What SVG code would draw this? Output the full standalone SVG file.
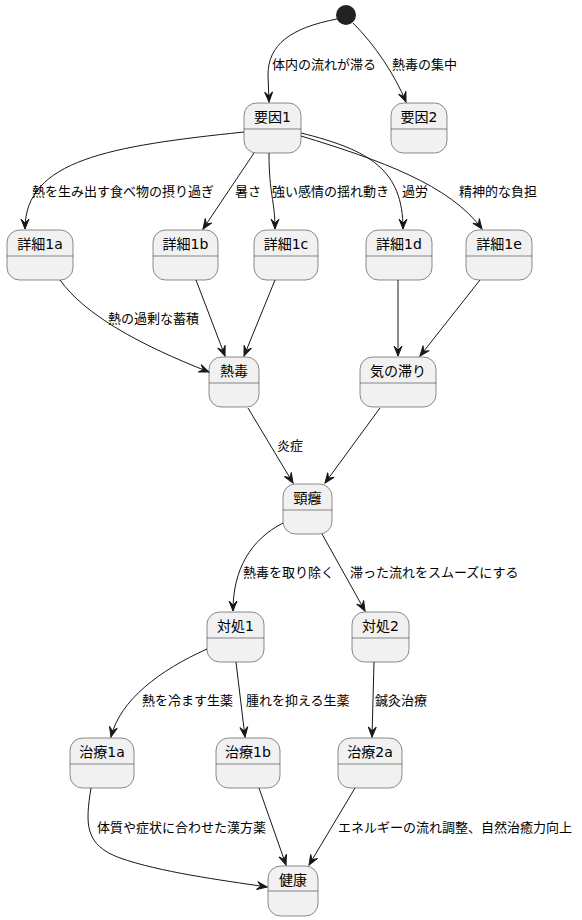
<svg xmlns="http://www.w3.org/2000/svg" width="582" height="920" viewBox="0 0 582 920">
<style>
.n rect{fill:#F1F1F1;stroke:#181818;stroke-width:0.5}
.n line{stroke:#181818;stroke-width:0.5}
.n text{font-family:"DejaVu Sans","Noto Sans CJK JP",sans-serif;font-size:14px;font-weight:normal;fill:#000;text-anchor:middle}
#edges path{fill:none;stroke:#181818;stroke-width:1;marker-end:url(#ah)}
.lb{font-family:"DejaVu Sans","Noto Sans CJK JP",sans-serif;font-size:13px;font-weight:normal;fill:#000}
</style>
<defs>
<marker id="ah" viewBox="-11 -5 12 10" refX="0" refY="0" markerWidth="12" markerHeight="10" markerUnits="userSpaceOnUse" orient="auto">
<path d="M0,0 L-10,-4 L-6,0 L-10,4 Z" fill="#181818" stroke="#181818" stroke-width="1"/>
</marker>
</defs>
<rect width="582" height="920" fill="#FFFFFF"/>
<g id="start"><circle cx="346" cy="15" r="10" fill="#222222"/></g>
<g id="youin1" class="n"><rect x="244" y="103" width="57" height="50" rx="12.5"/><line x1="244" y1="129" x2="301" y2="129"/><text x="272.5" y="122">要因1</text></g>
<g id="youin2" class="n"><rect x="391" y="103" width="56" height="50" rx="12.5"/><line x1="391" y1="129" x2="447" y2="129"/><text x="419" y="122">要因2</text></g>
<g id="shousai1a" class="n"><rect x="7" y="230" width="66" height="50" rx="12.5"/><line x1="7" y1="256" x2="73" y2="256"/><text x="40" y="249">詳細1a</text></g>
<g id="shousai1b" class="n"><rect x="153" y="230" width="65" height="50" rx="12.5"/><line x1="153" y1="256" x2="218" y2="256"/><text x="185.5" y="249">詳細1b</text></g>
<g id="shousai1c" class="n"><rect x="254" y="230" width="64" height="50" rx="12.5"/><line x1="254" y1="256" x2="318" y2="256"/><text x="286" y="249">詳細1c</text></g>
<g id="shousai1d" class="n"><rect x="366" y="230" width="66" height="50" rx="12.5"/><line x1="366" y1="256" x2="432" y2="256"/><text x="399" y="249">詳細1d</text></g>
<g id="shousai1e" class="n"><rect x="466" y="230" width="66" height="50" rx="12.5"/><line x1="466" y1="256" x2="532" y2="256"/><text x="499" y="249">詳細1e</text></g>
<g id="netsudoku" class="n"><rect x="209" y="357" width="50" height="50" rx="12.5"/><line x1="209" y1="383" x2="259" y2="383"/><text x="234" y="376">熱毒</text></g>
<g id="kinotodokori" class="n"><rect x="360" y="357" width="76" height="50" rx="12.5"/><line x1="360" y1="383" x2="436" y2="383"/><text x="398" y="376">気の滞り</text></g>
<g id="keiyou" class="n"><rect x="283" y="484" width="49" height="50" rx="12.5"/><line x1="283" y1="510" x2="332" y2="510"/><text x="307.5" y="503">頸癰</text></g>
<g id="taisho1" class="n"><rect x="207" y="612" width="57" height="50" rx="12.5"/><line x1="207" y1="638" x2="264" y2="638"/><text x="235.5" y="631">対処1</text></g>
<g id="taisho2" class="n"><rect x="352" y="612" width="57" height="50" rx="12.5"/><line x1="352" y1="638" x2="409" y2="638"/><text x="380.5" y="631">対処2</text></g>
<g id="chiryou1a" class="n"><rect x="70" y="738" width="64" height="50" rx="12.5"/><line x1="70" y1="764" x2="134" y2="764"/><text x="102" y="757">治療1a</text></g>
<g id="chiryou1b" class="n"><rect x="216" y="738" width="64" height="50" rx="12.5"/><line x1="216" y1="764" x2="280" y2="764"/><text x="248" y="757">治療1b</text></g>
<g id="chiryou2a" class="n"><rect x="338" y="738" width="64" height="50" rx="12.5"/><line x1="338" y1="764" x2="402" y2="764"/><text x="370" y="757">治療2a</text></g>
<g id="kenkou" class="n"><rect x="268" y="866" width="50" height="50" rx="12.5"/><line x1="268" y1="891" x2="318" y2="891"/><text x="293" y="885">健康</text></g>
<g id="edges">
<path d="M337,19 C290,28 268,45 268,75 L269,102"/>
<path d="M353,23 C375,45 395,75 406,102"/>
<path d="M244,132 C110,146 25,160 25,229"/>
<path d="M254,153 L203,229"/>
<path d="M269,153 C269,195 275,200 275,229"/>
<path d="M301,133 C370,150 403,170 403,229"/>
<path d="M301,136 C380,160 450,185 482,229"/>
<path d="M60,280 C85,315 140,345 209,372"/>
<path d="M196,280 L225,356"/>
<path d="M275,280 L244,356"/>
<path d="M398,280 L398,356"/>
<path d="M480,280 L420,356"/>
<path d="M248,408 L293,483"/>
<path d="M380,408 L325,483"/>
<path d="M283,523 C250,540 233,570 233,611"/>
<path d="M322,534 L365,611"/>
<path d="M207,649 C160,670 120,700 111,737"/>
<path d="M236,662 L245,737"/>
<path d="M374,662 L372,737"/>
<path d="M91,788 C85,825 85,845 120,858 C160,872 220,880 267,887"/>
<path d="M259,788 L286,865"/>
<path d="M355,788 L309,865"/>
</g>
<g id="labels">
<text class="lb" x="272" y="69">体内の流れが滞る</text>
<text class="lb" x="392" y="69">熱毒の集中</text>
<text class="lb" x="32" y="196">熱を生み出す食べ物の摂り過ぎ</text>
<text class="lb" x="235" y="196">暑さ</text>
<text class="lb" x="272" y="196">強い感情の揺れ動き</text>
<text class="lb" x="402" y="196">過労</text>
<text class="lb" x="459" y="196">精神的な負担</text>
<text class="lb" x="108" y="323">熱の過剰な蓄積</text>
<text class="lb" x="277" y="450">炎症</text>
<text class="lb" x="243" y="577">熱毒を取り除く</text>
<text class="lb" x="350" y="577">滞った流れをスムーズにする</text>
<text class="lb" x="142" y="705">熱を冷ます生薬</text>
<text class="lb" x="246" y="705">腫れを抑える生薬</text>
<text class="lb" x="375" y="705">鍼灸治療</text>
<text class="lb" x="97" y="832">体質や症状に合わせた漢方薬</text>
<text class="lb" x="338" y="832">エネルギーの流れ調整、自然治癒力向上</text>
</g>
</svg>
